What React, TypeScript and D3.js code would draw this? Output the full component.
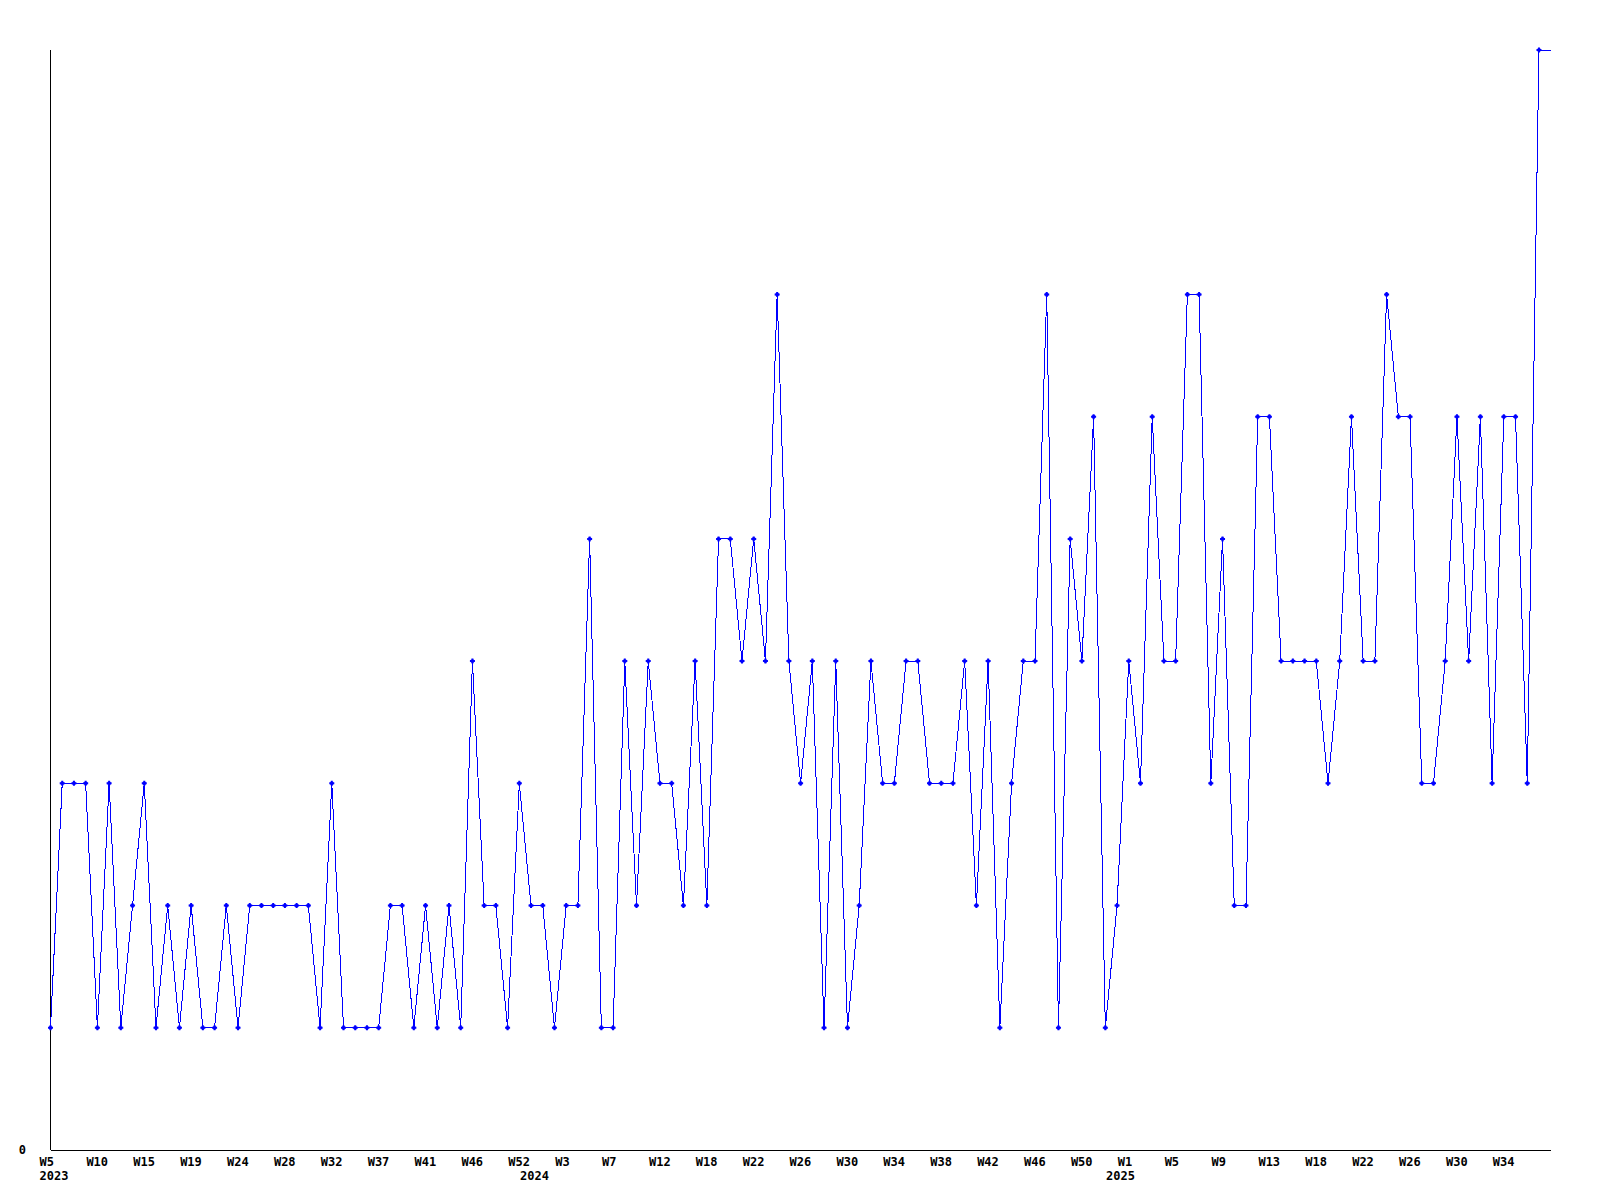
import React from "react";
import * as d3 from "d3";

// Weekly values, 2023 W5 → 2025 W37
const values: number[] = [
  1, 3, 3, 3, 1, 3, 1, 2, 3, 1,
  2, 1, 2, 1, 1, 2, 1, 2, 2, 2,
  2, 2, 2, 1, 3, 1, 1, 1, 1, 2,
  2, 1, 2, 1, 2, 1, 4, 2, 2, 1,
  3, 2, 2, 1, 2, 2, 5, 1, 1, 4,
  2, 4, 3, 3, 2, 4, 2, 5, 5, 4,
  5, 4, 7, 4, 3, 4, 1, 4, 1, 2,
  4, 3, 3, 4, 4, 3, 3, 3, 4, 2,
  4, 1, 3, 4, 4, 7, 1, 5, 4, 6,
  1, 2, 4, 3, 6, 4, 4, 7, 7, 3,
  5, 2, 2, 6, 6, 4, 4, 4, 4, 3,
  4, 6, 4, 4, 7, 6, 6, 3, 3, 4,
  6, 4, 6, 3, 6, 6, 3, 9,
];

const weekLabels: string[] = [
  "W5", "W10", "W15", "W19", "W24", "W28", "W32", "W37", "W41", "W46", "W52",
  "W3", "W7", "W12", "W18", "W22", "W26", "W30", "W34", "W38", "W42", "W46", "W50",
  "W1", "W5", "W9", "W13", "W18", "W22", "W26", "W30", "W34",
];
const weekLabelStep = 4;

const yearLabels: string[] = ["2023", "2024", "2025"];
const yearIndex: number[] = [0, 41, 91];

const yTicks: number[] = [0];

const W = 1600;
const H = 1200;
const left = 50.5;
const right = 1550.7;
const top = 50;
const bottom = 1150;

export default function App() {
  const n = values.length;
  const x = d3.scaleLinear().domain([0, n]).range([left, right]);
  const y = d3.scaleLinear().domain([0, d3.max(values) as number]).range([bottom, top]);

  const lineData: [number, number][] = values.map((v, i) => [i, v] as [number, number]);
  lineData.push([n, values[n - 1]]);
  const line = d3
    .line<[number, number]>()
    .x((d) => x(d[0]))
    .y((d) => y(d[1]));

  const font = "'DejaVu Sans Mono', 'Liberation Mono', monospace";

  return (
    <svg
      width={W}
      height={H}
      style={{ position: "absolute", left: 0, top: 0, background: "#fff" }}
    >
      <rect x={0} y={0} width={W} height={H} fill="#fff" />
      {/* axes */}
      <line x1={left} y1={top} x2={left} y2={bottom} stroke="#000" strokeWidth={1} shapeRendering="crispEdges" />
      <line x1={left} y1={bottom} x2={right} y2={bottom} stroke="#000" strokeWidth={1} shapeRendering="crispEdges" />
      {yTicks.map((t) => (
        <text
          key={t}
          x={26}
          y={y(t) + 4}
          textAnchor="end"
          fontFamily={font}
          fontWeight="bold"
          fontSize={12}
          fill="#000"
        >
          {t}
        </text>
      ))}
      {weekLabels.map((lab, k) => (
        <text
          key={"w" + k}
          x={x(k * weekLabelStep) - 11}
          y={1166}
          fontFamily={font}
          fontWeight="bold"
          fontSize={12}
          fill="#000"
        >
          {lab}
        </text>
      ))}
      {yearLabels.map((lab, k) => (
        <text
          key={"y" + k}
          x={x(yearIndex[k]) - 11}
          y={1180}
          fontFamily={font}
          fontWeight="bold"
          fontSize={12}
          fill="#000"
        >
          {lab}
        </text>
      ))}
      <path d={line(lineData) || ""} fill="none" stroke="#0000ff" strokeWidth={1} shapeRendering="crispEdges" />
      {values.map((v, i) => (
        <path
          key={"m" + i}
          d={`M${x(i) - 2.5},${y(v)}h5M${x(i)},${y(v) - 2.5}v5`}
          stroke="#0000ff"
          strokeWidth={2}
          fill="none"
        />
      ))}
      {values.map((v, i) => (
        <rect key={"c" + i} x={x(i) - 1.5} y={y(v) - 1.5} width={3} height={3} fill="#0000ff" />
      ))}
    </svg>
  );
}
